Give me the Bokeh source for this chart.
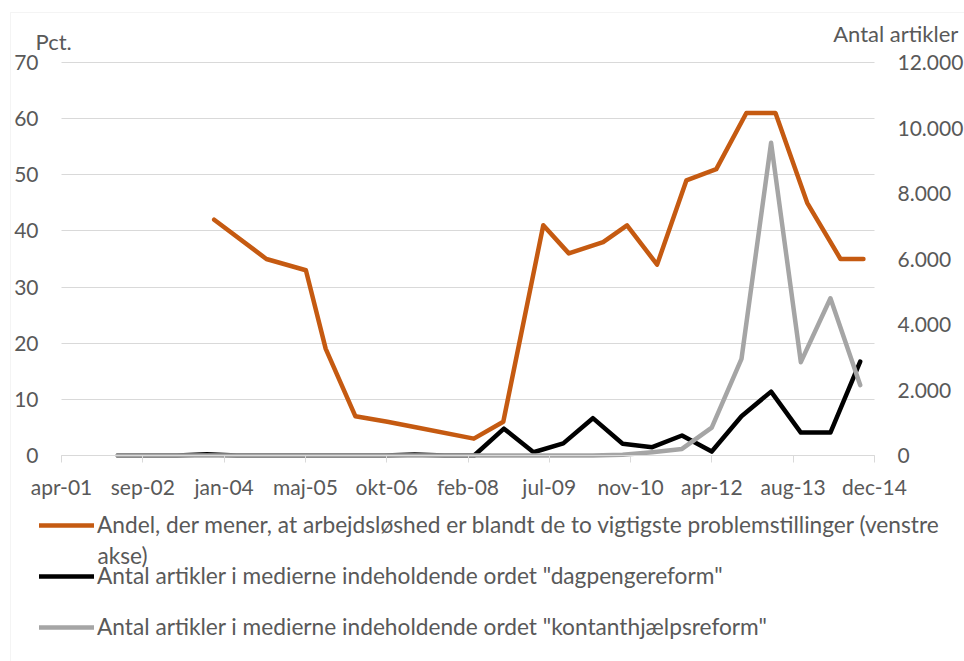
import pandas as pd
from bokeh.plotting import figure
from bokeh.models import (Range1d, LinearAxis, FixedTicker, Legend, LegendItem, Label,
                          BoxAnnotation)
from bokeh.embed import file_html
from bokeh.resources import INLINE

# ---------------- data ----------------
axis_start = "2001-04-20"          # Excel date axis origin (first tick)
tick_step_days = 500               # Excel major unit (days)
x_tick_labels = ["apr-01", "sep-02", "jan-04", "maj-05", "okt-06", "feb-08",
                 "jul-09", "nov-10", "apr-12", "aug-13", "dec-14"]

andel_dates = ["2003-11-15", "2004-10-01", "2005-06-01", "2005-10-01", "2006-04-01",
               "2006-10-15", "2007-04-15", "2008-03-30", "2008-09-27", "2009-05-31",
               "2009-11-04", "2010-06-03", "2010-10-28", "2011-05-01", "2011-10-28",
               "2012-04-29", "2012-10-31", "2013-04-28", "2013-11-09", "2014-06-02",
               "2014-10-21"]
andel_pct = [42, 35, 33, 19, 7, 6, 5, 3, 6, 41, 36, 38, 41, 34, 49, 51, 61, 61, 45, 35, 35]

artikel_dates = ["2002-04-01", "2002-10-01", "2003-04-01", "2003-10-01", "2004-04-01",
                 "2004-10-01", "2005-04-01", "2005-10-01", "2006-04-01", "2006-10-01",
                 "2007-04-01", "2007-10-01", "2008-04-01", "2008-10-01", "2009-04-01",
                 "2009-10-01", "2010-04-01", "2010-10-01", "2011-04-01", "2011-10-01",
                 "2012-04-01", "2012-10-01", "2013-04-01", "2013-10-01", "2014-04-01",
                 "2014-10-01"]
dagpengereform = [0, 0, 0, 40, 0, 0, 0, 0, 0, 0, 30, 0, 0, 820, 100, 370, 1140, 360,
                  255, 610, 120, 1200, 1950, 700, 700, 2870]
kontanthjaelpsreform = [0, 0, 0, 0, 0, 0, 0, 0, 0, 0, 0, 0, 0, 0, 0, 0, 0, 20,
                        100, 200, 850, 2950, 9550, 2850, 4800, 2150]

left_ticks = [0, 10, 20, 30, 40, 50, 60, 70]
right_ticks = [0, 2000, 4000, 6000, 8000, 10000, 12000]
right_tick_labels = ["0", "2.000", "4.000", "6.000", "8.000", "10.000", "12.000"]

left_axis_title = "Pct."
right_axis_title = "Antal artikler"
legend_labels = [
    "Andel, der mener, at arbejdsløshed er blandt de to vigtigste problemstillinger (venstre",
    'Antal artikler i medierne indeholdende ordet "dagpengereform"',
    'Antal artikler i medierne indeholdende ordet "kontanthjælpsreform"',
]
legend_label_wrap = "akse)"

# ---------------- geometry (pixels) ----------------
W, H = 964, 661
PX_L, PX_R, PX_T, PX_B = 61, 874, 62, 455     # plot area inside the canvas

t0 = pd.Timestamp(axis_start)
def to_days(ds):
    return [(pd.Timestamp(d) - t0).days for d in ds]

x_ticks = [i * tick_step_days for i in range(len(x_tick_labels))]

dx = (x_ticks[-1] - x_ticks[0]) / (PX_R - PX_L)
dyl = (left_ticks[-1] - left_ticks[0]) / (PX_B - PX_T)
dyr = (right_ticks[-1] - right_ticks[0]) / (PX_B - PX_T)

FONT = "Lato"
TXT = "#595959"
GRID = "#d9d9d9"
FS_TICK = "21px"
FS_TEXT = "22px"
FS_LEG = "22.7px"

p = figure(width=W, height=H,
           x_range=Range1d(x_ticks[0] - PX_L * dx, x_ticks[-1] + (W - PX_R) * dx),
           y_range=Range1d(left_ticks[0] - (H - PX_B) * dyl, left_ticks[-1] + PX_T * dyl),
           output_backend="svg", toolbar_location=None,
           min_border=0, min_border_left=0, min_border_right=0,
           min_border_top=0, min_border_bottom=0)
p.extra_y_ranges = {"art": Range1d(right_ticks[0] - (H - PX_B) * dyr,
                                   right_ticks[-1] + PX_T * dyr)}
p.outline_line_color = None
p.background_fill_color = "white"
p.border_fill_color = "white"

# x axis
xa = p.xaxis[0]
xa.fixed_location = left_ticks[0]
xa.bounds = (x_ticks[0], x_ticks[-1])
xa.ticker = FixedTicker(ticks=x_ticks)
xa.major_label_overrides = {t: l for t, l in zip(x_ticks, x_tick_labels)}
xa.axis_line_color = GRID
xa.major_tick_line_color = GRID
xa.major_tick_in = 0
xa.major_tick_out = 7
xa.minor_tick_line_color = None
xa.major_label_standoff = 11
xa.major_label_text_font = FONT
xa.major_label_text_font_size = FS_TICK
xa.major_label_text_color = TXT

# left axis
ya = p.yaxis[0]
ya.fixed_location = x_ticks[0]
ya.bounds = (left_ticks[0], left_ticks[-1])
ya.ticker = FixedTicker(ticks=left_ticks)
ya.axis_line_color = None
ya.major_tick_line_color = None
ya.minor_tick_line_color = None
ya.major_tick_out = 0
ya.major_tick_in = 0
ya.major_label_standoff = 23
ya.major_label_text_font = FONT
ya.major_label_text_font_size = FS_TICK
ya.major_label_text_color = TXT

# right axis
ra = LinearAxis(y_range_name="art")
ra.fixed_location = x_ticks[-1]
ra.bounds = (right_ticks[0], right_ticks[-1])
ra.ticker = FixedTicker(ticks=right_ticks)
ra.major_label_overrides = {t: l for t, l in zip(right_ticks, right_tick_labels)}
ra.axis_line_color = None
ra.major_tick_line_color = None
ra.minor_tick_line_color = None
ra.major_tick_out = 0
ra.major_tick_in = 0
ra.major_label_standoff = 23
ra.major_label_text_font = FONT
ra.major_label_text_font_size = FS_TICK
ra.major_label_text_color = TXT
p.add_layout(ra, "right")

p.xgrid.grid_line_color = None
yg = p.ygrid[0]
yg.ticker = FixedTicker(ticks=left_ticks)
yg.bounds = (left_ticks[0], left_ticks[-1])
try:
    yg.cross_bounds = (x_ticks[0], x_ticks[-1])
    yg.grid_line_color = GRID
    yg.grid_line_width = 1
except Exception:
    yg.grid_line_color = None
    p.segment(x0=[x_ticks[0]] * len(left_ticks), x1=[x_ticks[-1]] * len(left_ticks),
              y0=left_ticks, y1=left_ticks, line_color=GRID, line_width=1, level="underlay")

r1 = p.line(to_days(andel_dates), andel_pct, line_color="#C55A11", line_width=4.5,
            line_join="round", line_cap="round")
r2 = p.line(to_days(artikel_dates), dagpengereform, line_color="#000000", line_width=4.5,
            line_join="round", line_cap="round", y_range_name="art")
r3 = p.line(to_days(artikel_dates), kontanthjaelpsreform, line_color="#A5A5A5", line_width=4.5,
            line_join="round", line_cap="round", y_range_name="art")

legend = Legend(items=[LegendItem(label=legend_labels[0], renderers=[r1]),
                       LegendItem(label=legend_labels[1], renderers=[r2]),
                       LegendItem(label=legend_labels[2], renderers=[r3])],
                location=(39, 20.5), orientation="vertical",
                glyph_width=55, glyph_height=28, label_height=28, spacing=23,
                label_standoff=3, padding=0, margin=0,
                label_text_font=FONT, label_text_font_size=FS_LEG, label_text_color=TXT,
                background_fill_alpha=0, border_line_color=None)
p.add_layout(legend, "center")

for txt, lx, ly, fs in [(legend_label_wrap, 97, H - 555, FS_LEG),
                        (left_axis_title, 35, H - 40.5, FS_TEXT),
                        (right_axis_title, 832.7, H - 33, FS_TEXT)]:
    p.add_layout(Label(x=lx, y=ly, x_units="screen", y_units="screen", text=txt,
                       text_font=FONT, text_font_size=fs, text_color=TXT,
                       text_baseline="middle", text_align="left"))

# chart-area border (top-left corner of Excel chart area)
p.add_layout(BoxAnnotation(left=x_ticks[0] - (PX_L - 10) * dx,
                           right=x_ticks[-1] + (W - PX_R + 20) * dx,
                           top=left_ticks[-1] + (PX_T - 12) * dyl,
                           bottom=left_ticks[0] - (H - PX_B + 20) * dyl,
                           fill_alpha=0, line_color=GRID, line_width=1))

open("out.html", "w").write(file_html(p, INLINE))
